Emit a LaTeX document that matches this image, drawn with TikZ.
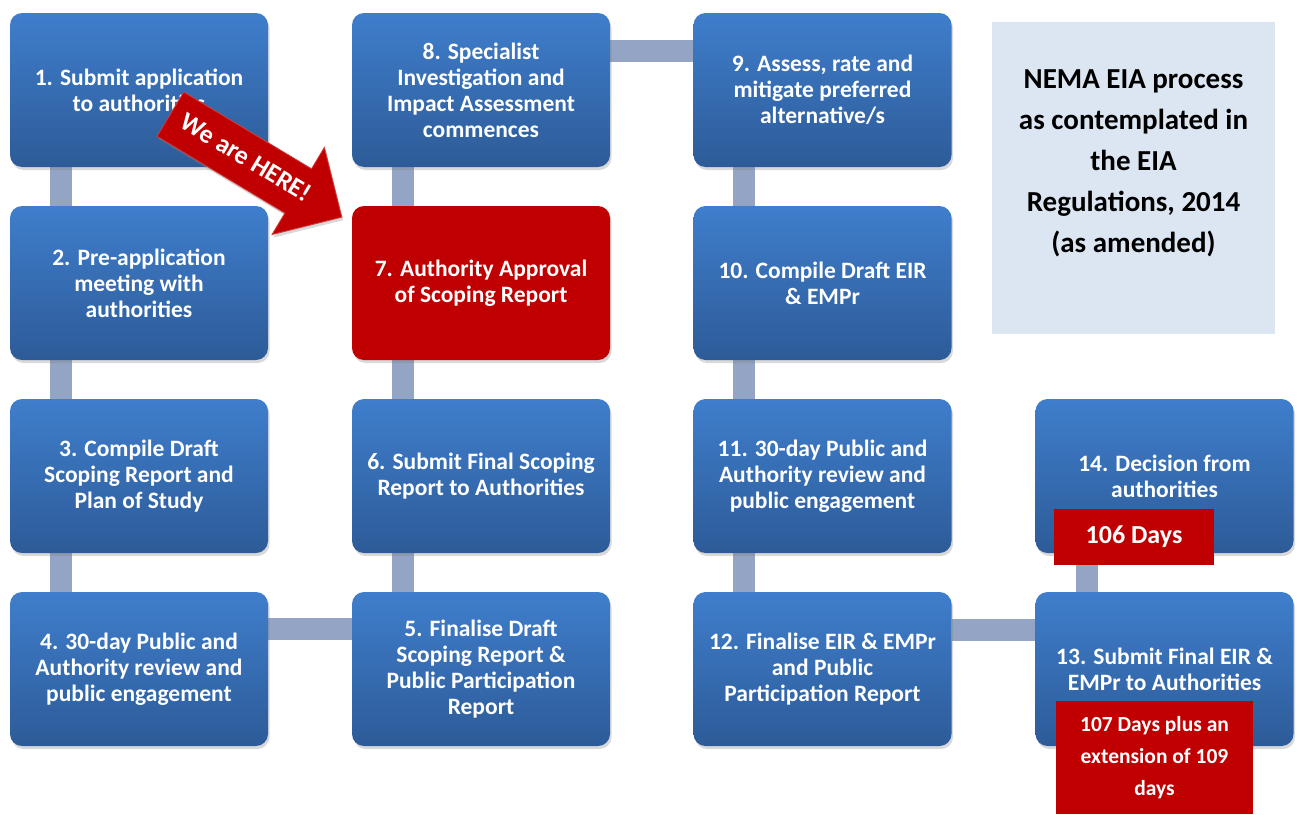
\documentclass[tikz,border=0pt]{standalone}
\usepackage{fontspec}
\setmainfont{Carlito}
\usetikzlibrary{positioning,shapes.arrows,backgrounds,shadows}

\definecolor{boxtop}{HTML}{3F7ECC}
\definecolor{boxbot}{HTML}{2D5B98}
\definecolor{hereRed}{HTML}{C00000}
\definecolor{linkcol}{HTML}{93A4C4}
\definecolor{notecol}{HTML}{DCE6F2}

\tikzset{
  stepbox/.style={rectangle, rounded corners=12pt, minimum width=258pt,
    minimum height=154pt, inner sep=0pt, top color=boxtop, bottom color=boxbot,
    draw=none, text=white, align=center,
    font=\fontsize{23.5}{26}\selectfont\bfseries,
    drop shadow={shadow xshift=1.5pt, shadow yshift=-3pt, opacity=0.3}},
  nowbox/.style={stepbox, top color=hereRed, bottom color=hereRed},
  daysbox/.style={rectangle, fill=hereRed, text=white, align=center, inner sep=0pt,
    font=\bfseries},
  link/.style={line width=22pt, draw=linkcol},
  herearrow/.style={single arrow, fill=hereRed, draw=hereRed!75!white, line width=0.8pt,
    text=white, font=\fontsize{26}{28}\selectfont\bfseries,
    single arrow head extend=25pt, single arrow tip angle=90,
    minimum height=200pt, text height=18pt, text depth=5pt,
    inner ysep=14pt, inner xsep=6pt,
    drop shadow={shadow xshift=1.5pt, shadow yshift=-3pt, opacity=0.3}}
}

\begin{document}
\begin{tikzpicture}[x=1pt, y=-1pt]
  \useasboundingbox (0,0) rectangle (1298,814);

  % process steps
  \path
    (139,90) node[stepbox] (s1) {1. Submit application\\to authorities}
    (139,283) node[stepbox] (s2) {2. Pre-application\\meeting with\\authorities}
    (139,476) node[stepbox] (s3) {3. Compile Draft\\Scoping Report and\\Plan of Study}
    (139,669) node[stepbox] (s4) {4. 30-day Public and\\Authority review and\\public engagement}
    (481,669) node[stepbox] (s5) {5. Finalise Draft\\Scoping Report \&\\Public Participation\\Report}
    (481,476) node[stepbox] (s6) {6. Submit Final Scoping\\Report to Authorities}
    (481,283) node[nowbox] (s7) {7. Authority Approval\\of Scoping Report}
    (481,90) node[stepbox] (s8) {8. Specialist\\Investigation and\\Impact Assessment\\commences}
    (822.5,90) node[stepbox] (s9) {9. Assess, rate and\\mitigate preferred\\alternative/s}
    (822.5,283) node[stepbox] (s10) {10. Compile Draft EIR\\\& EMPr}
    (822.5,476) node[stepbox] (s11) {11. 30-day Public and\\Authority review and\\public engagement}
    (822.5,669) node[stepbox] (s12) {12. Finalise EIR \& EMPr\\and Public\\Participation Report}
    (1164.5,669) node[stepbox] (s13) {13. Submit Final EIR \&\\EMPr to Authorities}
    (1164.5,476) node[stepbox] (s14) {14. Decision from\\authorities};

  % title note
  \node[rectangle, fill=notecol, minimum width=283pt, minimum height=312pt] (note) at (1133.5,178) {};
  \node[align=center, font=\fontsize{29}{41}\selectfont\bfseries] (notetext)
    at ([yshift=15pt]note.center) {NEMA EIA process\\as contemplated in\\the EIA\\Regulations, 2014\\(as amended)};

  % connectors
  \begin{scope}[on background layer]
    \draw[link] ([xshift=51pt]s1.south west) to ([xshift=51pt]s2.north west);
    \draw[link] ([xshift=51pt]s2.south west) to ([xshift=51pt]s3.north west);
    \draw[link] ([xshift=51pt]s3.south west) to ([xshift=51pt]s4.north west);
    \draw[link] ([yshift=-37pt]s4.north east) to ([yshift=-37pt]s5.north west);
    \draw[link] ([xshift=51pt]s5.north west) to ([xshift=51pt]s6.south west);
    \draw[link] ([xshift=51pt]s6.north west) to ([xshift=51pt]s7.south west);
    \draw[link] ([xshift=51pt]s7.north west) to ([xshift=51pt]s8.south west);
    \draw[link] ([yshift=-38pt]s8.north east) to ([yshift=-38pt]s9.north west);
    \draw[link] ([xshift=51pt]s9.south west) to ([xshift=51pt]s10.north west);
    \draw[link] ([xshift=51pt]s10.south west) to ([xshift=51pt]s11.north west);
    \draw[link] ([xshift=51pt]s11.south west) to ([xshift=51pt]s12.north west);
    \draw[link] ([yshift=-38pt]s12.north east) to ([yshift=-38pt]s13.north west);
    \draw[link] ([xshift=52pt]s13.north west) to ([xshift=52pt]s14.south west);
  \end{scope}

  % durations
  \node[daysbox, minimum width=160pt, minimum height=56pt, font=\fontsize{26}{30}\selectfont\bfseries]
    (days14) at (1134,537) {106 Days};
  \node[daysbox, minimum width=197pt, minimum height=113pt, font=\fontsize{21.5}{32}\selectfont\bfseries]
    (days13) at (1154.5,757.5) {107 Days plus an\\extension of 109\\days};

  % current position
  \node[herearrow, rotate=-31] (here) at (245,159) {We are HERE!};
\end{tikzpicture}
\end{document}
